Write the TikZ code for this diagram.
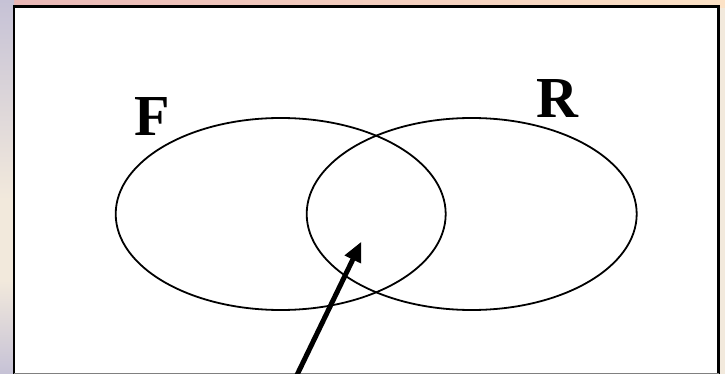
\documentclass[tikz,border=0pt]{standalone}
\usepackage{fontspec}
\setmainfont{Liberation Serif}
\usetikzlibrary{shapes.geometric,arrows.meta}
\definecolor{bgbeige}{HTML}{F2E9DC}
\definecolor{bgpeach}{HTML}{FCE2C6}
\definecolor{bgpink}{HTML}{E9B7B6}
\definecolor{bglav}{HTML}{C6C2D6}
\tikzset{
  setshape/.style={draw=black, line width=1.8pt, ellipse, minimum width=330pt, minimum height=192pt, inner sep=0pt},
  setlabel/.style={font=\fontsize{58}{60}\selectfont\bfseries, inner sep=0pt},
  pointer/.style={line width=5pt, -{Triangle[length=20pt,width=17pt]}},
}
\begin{document}
\begin{tikzpicture}[x=1pt,y=-1pt]
\useasboundingbox (0,0) rectangle (725,374);
% slide background
\fill[bgbeige] (0,0) rectangle (725,374);
\shade[left color=bgpink, right color=bgpeach] (0,0) rectangle (725,8);
\shade[top color=bglav, bottom color=bgbeige] (0,0) rectangle (14,200);
\shade[top color=bgbeige, bottom color=bglav] (0,280) rectangle (14,374);
% white panel
\fill[white] (14,6.5) rectangle (718.5,373);
\draw[line width=2.2pt, black] (14,374) -- (14,6.5) -- (718.5,6.5) -- (718.5,374);
\draw[line width=1pt, gray] (14,373.5) -- (718.5,373.5);
% sets
\node[setshape] (Fset) at (280.7,214) {};
\node[setshape] (Rset) at (471.7,214) {};
\node[setlabel] (Flabel) at (152.5,116.5) {F};
\node[setlabel] (Rlabel) at (557,98.5) {R};
% arrow
\coordinate (tail) at (296.5,376);
\coordinate (tip) at (361.5,241.5);
\draw[pointer] (tail) -- (tip);
\end{tikzpicture}
\end{document}
